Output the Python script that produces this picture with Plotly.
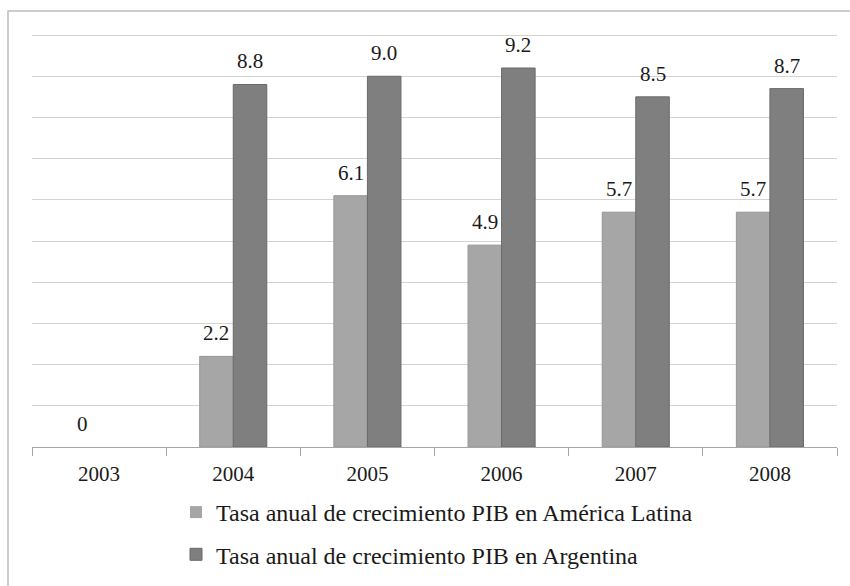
import plotly.graph_objects as go

years = ["2003", "2004", "2005", "2006", "2007", "2008"]
latam = [0, 2.2, 6.1, 4.9, 5.7, 5.7]
latam_labels = ["0", "2.2", "6.1", "4.9", "5.7", "5.7"]
argentina = [None, 8.8, 9.0, 9.2, 8.5, 8.7]
argentina_labels = ["", "8.8", "9.0", "9.2", "8.5", "8.7"]
series_names = ["Tasa anual de crecimiento PIB en América Latina",
                "Tasa anual de crecimiento PIB en Argentina"]

FONT = "'Liberation Serif', 'Times New Roman', 'DejaVu Serif', serif"

# hide outline on zero-height bars
latam_line_w = [0 if v == 0 else 1 for v in latam]

fig = go.Figure()
fig.add_trace(go.Bar(
    x=years, y=latam, name=series_names[0], legendgroup="a",
    marker=dict(color="#a6a6a6", line=dict(color="#969696", width=latam_line_w)),
))
fig.add_trace(go.Bar(
    x=years, y=argentina, name=series_names[1], legendgroup="b",
    marker=dict(color="#7f7f7f", line=dict(color="#6a6a6a", width=1)),
))

L, R, T, B = 32, 13, 33, 139
W, H = 850, 586
pw, ph = W - L - R, H - T - B
BARGAP = 0.5
YMAX = 10.05
bar_w = (1 - BARGAP) / 2

def px(x):
    return (x - L) / pw

def py(y):
    return (H - B - y) / ph

annotations = []
for vals, labels, sign in ((latam, latam_labels, -1), (argentina, argentina_labels, 1)):
    for i, (v, lab) in enumerate(zip(vals, labels)):
        if v is None or lab == "":
            continue
        annotations.append(dict(
            x=i + sign * bar_w / 2, y=v, xref="x", yref="y", text=lab,
            showarrow=False, xanchor="center", yanchor="bottom",
            yshift=9, font=dict(family=FONT, size=21, color="#1a1a1a"),
        ))

fig.update_layout(
    width=W, height=H,
    margin=dict(l=L, r=R, t=T, b=B, autoexpand=False),
    paper_bgcolor="white", plot_bgcolor="white",
    barmode="group", bargap=BARGAP, bargroupgap=0,
    font=dict(family=FONT, size=21, color="#1a1a1a"),
    annotations=annotations,
    xaxis=dict(
        type="category", categoryorder="array", categoryarray=years,
        range=[-0.5, len(years) - 0.5],
        showline=True, linecolor="#a6a6a6", linewidth=1,
        ticks="outside", tickson="boundaries", ticklen=8, tickcolor="#a6a6a6",
        tickfont=dict(family=FONT, size=21, color="#1a1a1a"),
        ticklabelstandoff=8,
        showgrid=False, zeroline=False,
    ),
    yaxis=dict(
        range=[0, YMAX], tickvals=list(range(0, 11)), showticklabels=False,
        showgrid=True, gridcolor="#d3d3d3", gridwidth=1, zeroline=False,
        showline=False, ticks="",
    ),
    legend=dict(
        orientation="v", x=px(176), xanchor="left", y=py(490), yanchor="top",
        font=dict(family=FONT, size=24, color="#1a1a1a"),
        traceorder="grouped", tracegroupgap=8, bgcolor="rgba(0,0,0,0)",
    ),
    shapes=[dict(
        type="rect", xref="paper", yref="paper",
        x0=px(8), x1=px(860), y0=py(600), y1=py(11),
        line=dict(color="#bdbdbd", width=1.5), layer="below",
    )],
)

fig.write_html(
    "out.html",
    config={"displayModeBar": False},
    post_script="document.body.style.margin='0';document.body.style.overflow='hidden';",
)
